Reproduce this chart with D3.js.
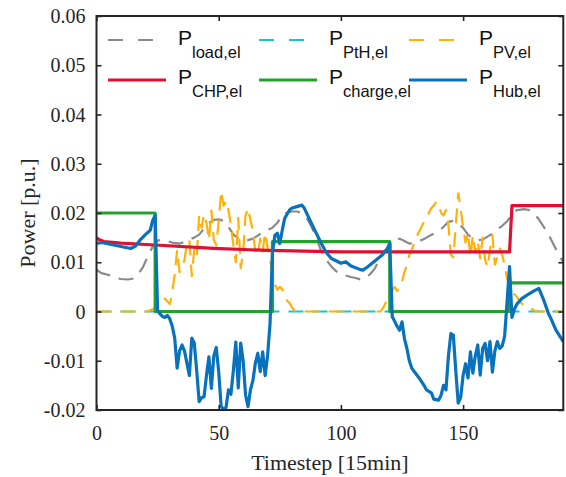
<!DOCTYPE html>
<html><head><meta charset="utf-8">
<script src="https://cdn.jsdelivr.net/npm/d3@7"></script>
<style>body{margin:0;background:#fff}svg{display:block}</style>
</head><body>
<svg id="c" width="566" height="477"></svg>
<script>
// ---- data (timestep, value in p.u.) ----
const loadPts = [[0,0.0085],[2,0.0078],[5,0.0074],[8,0.0068],[10,0.0066],[13,0.0065],[15,0.0067],[17,0.0075],[19,0.0090],[21,0.0112],[23,0.0132],[25,0.0144],[27,0.0146],[29,0.0143],[31,0.0140],[34,0.0138],[36,0.0141],[38,0.0146],[40,0.0150],[42,0.0156],[44,0.0168],[46,0.0180],[48,0.0186],[50,0.0187],[52,0.0184],[54,0.0172],[56,0.0156],[58,0.0149],[60,0.0145],[62,0.0145],[64,0.0148],[66,0.0154],[68,0.0161],[70,0.0166],[72,0.0170],[74,0.0180],[76,0.0196],[78,0.0201],[80,0.0203],[82,0.0203],[84,0.0200],[86,0.0190],[88,0.0172],[90,0.0148],[92,0.0122],[94,0.0105],[96,0.0092],[98,0.0082],[100,0.0076],[102,0.0073],[104,0.0070],[106,0.0068],[108,0.0065],[110,0.0068],[112,0.0076],[114,0.0088],[116,0.0110],[118,0.0123],[120,0.0132],[122,0.0143],[124,0.0148],[126,0.0143],[128,0.0138],[130,0.0139],[132,0.0143],[134,0.0147],[136,0.0153],[138,0.0158],[140,0.0163],[142,0.0172],[144,0.0182],[146,0.0184],[148,0.0178],[150,0.0170],[152,0.0156],[154,0.0148],[156,0.0145],[158,0.0146],[160,0.0152],[162,0.0158],[164,0.0167],[166,0.0174],[168,0.0183],[170,0.0198],[172,0.0206],[175,0.0208],[177,0.0206],[179,0.0199],[181,0.0187],[183,0.0172],[185,0.0156],[187,0.0136],[189,0.0117],[191,0.0100]];
const pthPts = [[0,0],[191,0]];
const pvPts = [[0,0],[21,0],[22,0.0003],[24,0.0006],[26,0.0013],[28,0.0026],[30,0.0015],[31,0.0040],[32,0.0075],[33,0.0125],[34,0.0080],[35,0.0090],[36,0.0105],[37,0.0138],[38,0.0145],[39,0.0072],[40,0.0125],[41,0.0110],[42,0.0195],[43,0.0170],[44,0.0198],[45,0.0180],[46,0.0145],[47,0.0205],[48,0.0145],[49,0.0135],[50,0.0182],[51,0.0245],[52,0.0215],[53,0.0225],[54,0.0205],[55,0.0175],[56,0.0135],[57,0.0100],[58,0.0190],[59,0.0088],[60,0.0120],[61,0.0195],[62,0.0210],[63,0.0185],[64,0.0165],[65,0.0120],[66,0.0115],[67,0.0148],[68,0.0122],[69,0.0160],[70,0.0130],[71,0.0105],[72,0.0078],[73,0.0055],[74,0.0044],[75,0.0050],[76,0.0045],[77,0.0030],[78,0.0022],[79,0.0017],[80,0.0008],[81,0.0002],[82,0],[116,0],[117,0.0005],[118,0.0014],[119,0.0024],[120,0.0035],[121,0.0043],[122,0.0050],[123,0.0042],[124,0.0047],[125,0.0060],[126,0.0080],[127,0.0095],[128,0.0115],[129,0.0125],[130,0.0140],[131,0.0152],[132,0.0162],[133,0.0172],[134,0.0182],[135,0.0190],[136,0.0200],[137,0.0210],[138,0.0215],[139,0.0223],[140,0.0218],[141,0.0200],[142,0.0195],[143,0.0206],[144,0.0175],[145,0.0115],[146,0.0110],[147,0.0175],[148,0.0240],[149,0.0210],[150,0.0170],[151,0.0140],[152,0.0160],[153,0.0110],[154,0.0155],[155,0.0120],[156,0.0142],[157,0.0108],[158,0.0150],[159,0.0105],[160,0.0090],[161,0.0125],[162,0.0155],[163,0.0095],[164,0.0110],[165,0.0128],[166,0.0115],[167,0.0094],[168,0.0067],[169,0.0050],[170,0.0040],[171,0.0035],[172,0.0030],[173,0.0022],[174,0.0016],[175,0.0013],[176,0.0011],[177,0.0010],[178,0.0006],[179,0.0002],[180,0],[191,0]];
const chpPts = [[0,0.0150],[1,0.0146],[3,0.0142],[10,0.0139],[24,0.0135],[48,0.0128],[70,0.0124],[100,0.0121],[169,0.0121],[170,0.0215],[191,0.0215]];
const chargePts = [[0,0.0200],[24,0.0200],[24,0],[72,0],[72,0.0142],[120,0.0142],[120,0],[169,0],[169,0.0058],[191,0.0058]];
const hubPts = [[0,0.0138],[2,0.0140],[4,0.0138],[7,0.0135],[10,0.0132],[12,0.0130],[14,0.0128],[16,0.0133],[18,0.0146],[20,0.0156],[22,0.0165],[23,0.0185],[24,0.0195],[25,0.0002],[26,-0.0005],[27,-0.0010],[28,-0.0012],[29,-0.0008],[30,-0.0015],[31,-0.0030],[32,-0.0054],[33,-0.0115],[34,-0.0080],[35,-0.0068],[36,-0.0080],[37,-0.0105],[38,-0.0130],[39,-0.0054],[40,-0.0064],[41,-0.0120],[42,-0.0183],[43,-0.0175],[44,-0.0173],[45,-0.0130],[46,-0.0092],[47,-0.0156],[48,-0.0090],[49,-0.0073],[50,-0.0122],[51,-0.0193],[52,-0.0198],[53,-0.0195],[54,-0.0159],[55,-0.0168],[56,-0.0120],[57,-0.0062],[58,-0.0155],[59,-0.0064],[60,-0.0100],[61,-0.0170],[62,-0.0193],[63,-0.0159],[64,-0.0140],[65,-0.0105],[66,-0.0085],[67,-0.0122],[68,-0.0082],[69,-0.0130],[70,-0.0090],[71,-0.0025],[72,0.0120],[73,0.0155],[74,0.0159],[75,0.0138],[76,0.0165],[77,0.0189],[78,0.0198],[79,0.0206],[80,0.0210],[82,0.0213],[84,0.0216],[85,0.0210],[87,0.0189],[89,0.0168],[92,0.0138],[94,0.0120],[96,0.0108],[98,0.0103],[100,0.0098],[102,0.0101],[104,0.0093],[106,0.0089],[108,0.0085],[109,0.0084],[111,0.0091],[114,0.0103],[117,0.0115],[119,0.0128],[120,0.0138],[121,-0.0010],[122,-0.0020],[123,-0.0030],[124,-0.0038],[125,-0.0021],[126,-0.0055],[127,-0.0075],[128,-0.0100],[129,-0.0115],[130,-0.0122],[132,-0.0135],[134,-0.0150],[135,-0.0159],[137,-0.0165],[138,-0.0178],[140,-0.0180],[141,-0.0170],[142,-0.0150],[143,-0.0159],[144,-0.0090],[145,-0.0045],[146,-0.0048],[147,-0.0120],[148,-0.0186],[149,-0.0175],[150,-0.0130],[151,-0.0106],[152,-0.0135],[153,-0.0082],[154,-0.0125],[155,-0.0090],[156,-0.0068],[157,-0.0129],[158,-0.0075],[159,-0.0065],[160,-0.0100],[161,-0.0061],[162,-0.0123],[163,-0.0080],[164,-0.0061],[165,-0.0075],[166,-0.0070],[167,-0.0050],[168,0.0020],[169,0.0091],[170,-0.0012],[171,0.0005],[172,0.0015],[174,0.0026],[177,0.0036],[179,0.0042],[181,0.0047],[183,0.0023],[185,-0.0005],[186,-0.0015],[188,-0.0038],[191,-0.0061]];
const xTicks = [0,50,100,150];
const yTicks = [-0.02,-0.01,0,0.01,0.02,0.03,0.04,0.05,0.06];
const seriesNames = ["load,el","PtH,el","PV,el","CHP,el","charge,el","Hub,el"];

// ---- layout ----
const L=96.5, R=563.3, T=16, B=410;
const svg=d3.select("#c");
const x=d3.scaleLinear().domain([0,191]).range([L,R]);
const y=d3.scaleLinear().domain([-0.02,0.06]).range([B,T]);
const axisCol="#262626";
const serif="'Liberation Serif','Times New Roman',serif";
const sans="'Liberation Sans',Arial,sans-serif";

svg.append("defs").append("clipPath").attr("id","clip")
  .append("rect").attr("x",L).attr("y",T).attr("width",R-L).attr("height",B-T);

const line=d3.line().x(d=>x(d[0])).y(d=>y(d[1]));
const series=[
  {pts:loadPts,color:"#8a8a8a",w:2.2,dash:"15,9"},
  {pts:pthPts,color:"#1cc4c8",w:2.2,dash:"15,9"},
  {pts:pvPts,color:"#ffb10a",w:2.2,dash:"15,9"},
  {pts:chpPts,color:"#de1134",w:3.2,dash:null},
  {pts:chargePts,color:"#25a22e",w:3.2,dash:null},
  {pts:hubPts,color:"#0872bd",w:3.2,dash:null}
];
const g=svg.append("g").attr("clip-path","url(#clip)");
series.forEach(s=>{
  g.append("path").datum(s.pts).attr("d",line).attr("fill","none")
   .attr("stroke",s.color).attr("stroke-width",s.w)
   .attr("stroke-linejoin","round")
   .attr("stroke-dasharray",s.dash);
});

// ---- axes ----
function styleAxis(sel){
  sel.attr("font-family",null);
  sel.select(".domain").remove();
  sel.selectAll(".tick line").attr("stroke",axisCol).attr("stroke-width",1.6);
}
const ax=svg.append("g").attr("transform",`translate(0,${B})`)
  .call(d3.axisBottom(x).tickValues(xTicks).tickSizeInner(-5).tickSizeOuter(0).tickPadding(0));
styleAxis(ax);
ax.selectAll("text").style("font-family",serif).style("font-size","20px").attr("fill",axisCol).attr("y",30).attr("dy",0);
const axT=svg.append("g").attr("transform",`translate(0,${T})`)
  .call(d3.axisTop(x).tickValues(xTicks).tickSizeInner(-5).tickSizeOuter(0).tickFormat(""));
styleAxis(axT);
const ay=svg.append("g").attr("transform",`translate(${L},0)`)
  .call(d3.axisLeft(y).tickValues(yTicks).tickSizeInner(-5).tickSizeOuter(0).tickPadding(0)
    .tickFormat(d=>Math.abs(d)<1e-9?"0":d.toFixed(2)));
styleAxis(ay);
ay.selectAll("text").style("font-family",serif).style("font-size","20px").attr("fill",axisCol).attr("x",-11).attr("dy","0.33em");
const ayR=svg.append("g").attr("transform",`translate(${R},0)`)
  .call(d3.axisRight(y).tickValues(yTicks).tickSizeInner(-5).tickSizeOuter(0).tickFormat(""));
styleAxis(ayR);
svg.append("rect").attr("x",L).attr("y",T).attr("width",R-L).attr("height",B-T)
  .attr("fill","none").attr("stroke",axisCol).attr("stroke-width",2);

svg.append("text").attr("x",(L+R)/2).attr("y",470).attr("text-anchor","middle")
  .style("font-family",serif).style("font-size","22px").attr("fill",axisCol).text("Timestep [15min]");
svg.append("text").attr("transform",`translate(35,${(T+B)/2}) rotate(-90)`).attr("text-anchor","middle")
  .style("font-family",serif).style("font-size","22px").attr("fill",axisCol).text("Power [p.u.]");

// ---- legend ----
const legPos=[[108,40],[259,40],[409,40],[108,80],[259,80],[409,80]];
series.forEach((s,i)=>{
  const [lx,ly]=legPos[i];
  svg.append("line").attr("x1",lx).attr("x2",lx+58).attr("y1",ly).attr("y2",ly)
    .attr("stroke",s.color).attr("stroke-width",s.w).attr("stroke-dasharray",s.dash?"15,15":null);
  const t=svg.append("text").attr("x",lx+70).attr("y",ly+5+(i>=3?-1:0)).style("font-family",sans).attr("fill","#111");
  t.append("tspan").style("font-size","21px").text("P");
  t.append("tspan").style("font-size","16.5px").attr("dy",12.5).text(seriesNames[i]);
});
</script>
</body></html>
